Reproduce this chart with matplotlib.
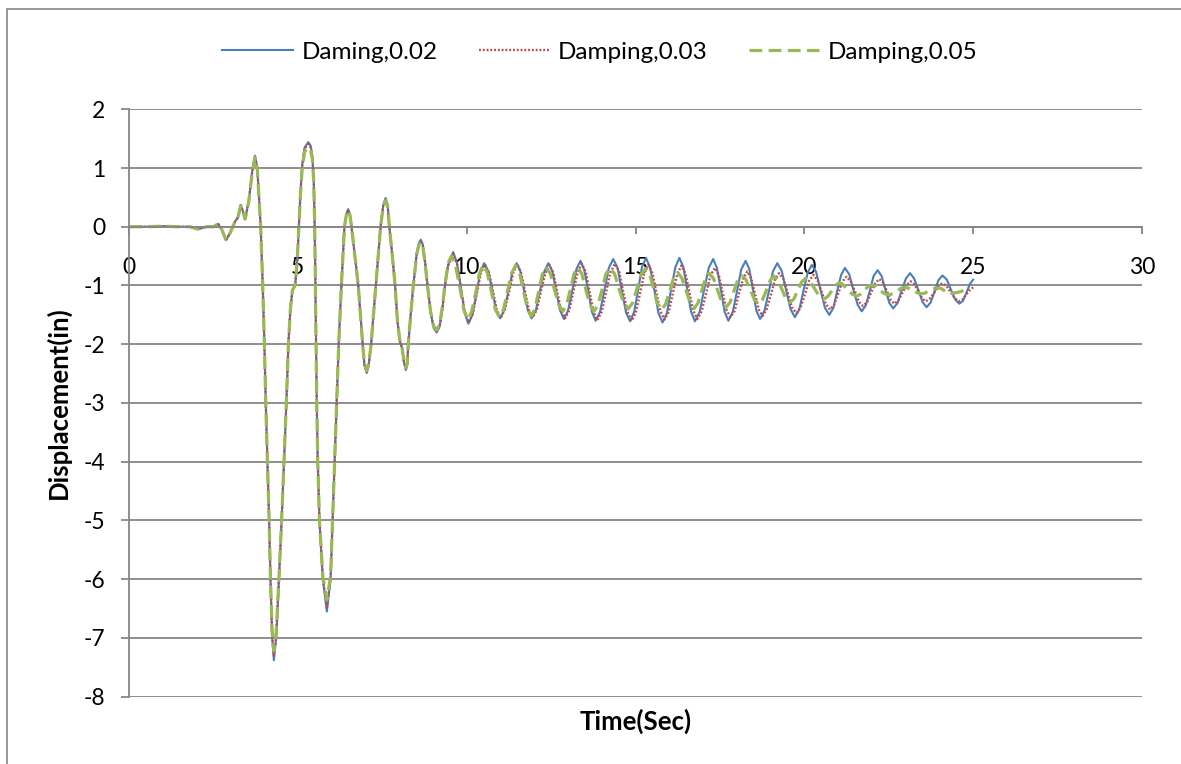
# -*- coding: utf-8 -*-
# Displacement time history for three damping ratios (Excel-style line chart)

import numpy as np
import matplotlib
matplotlib.use("Agg")
import matplotlib.pyplot as plt
from matplotlib.patches import Rectangle

plt.rcParams['font.family'] = ['Lato', 'DejaVu Sans']
plt.rcParams['axes.unicode_minus'] = False

GRAY = '#868686'

labels = ['Daming,0.02', 'Damping,0.03', 'Damping,0.05']
colors = ['#4A7EBB', '#BE4B48', '#98B954']

# ---- strong motion part, 0 - 9.45 s (same time samples for all three runs)
time_early = [
    0.0, 0.5, 1.0, 1.5, 1.8, 2.04, 2.3, 2.5,
    2.64, 2.75, 2.87, 3.0, 3.14, 3.22, 3.31, 3.38,
    3.44, 3.55, 3.65, 3.73, 3.80, 3.90, 3.96, 4.01,
    4.05, 4.10, 4.15, 4.19, 4.24, 4.29, 4.36, 4.44,
    4.52, 4.59, 4.66, 4.72, 4.78, 4.84, 4.92, 4.98,
    5.03, 5.08, 5.13, 5.20, 5.31, 5.38, 5.43, 5.47,
    5.50, 5.52, 5.54, 5.56, 5.59, 5.64, 5.74, 5.86,
    5.97, 6.03, 6.09, 6.15, 6.21, 6.29, 6.38, 6.44,
    6.49, 6.54, 6.59, 6.69, 6.79, 6.92, 6.97, 7.04,
    7.10, 7.17, 7.31, 7.45, 7.53, 7.60, 7.66, 7.71,
    7.80, 7.88, 7.95, 8.02, 8.08, 8.14, 8.20, 8.24,
    8.27, 8.35, 8.42, 8.52, 8.58, 8.64, 8.70, 8.77,
    8.84, 8.93, 9.02, 9.11, 9.20, 9.28, 9.36, 9.45,
]
disp_early_002 = [
    0.00, 0.00, 0.01, 0.00, 0.00, -0.04, 0.00, 0.00,
    0.05, -0.05, -0.23, -0.10, 0.09, 0.15, 0.37, 0.25,
    0.13, 0.45, 0.95, 1.21, 1.00, 0.00, -1.00, -2.00,
    -3.00, -4.00, -5.00, -6.00, -7.00, -7.38, -7.00, -6.00,
    -5.00, -4.00, -3.00, -2.00, -1.40, -1.08, -1.00, -0.60,
    0.00, 0.60, 1.05, 1.35, 1.44, 1.38, 1.20, 0.80,
    0.00, -1.00, -2.00, -3.00, -4.00, -5.00, -6.00, -6.55,
    -6.00, -5.00, -4.00, -3.00, -2.00, -1.00, 0.00, 0.22,
    0.30, 0.22, 0.00, -0.50, -1.00, -2.00, -2.35, -2.49,
    -2.35, -2.00, -1.00, 0.00, 0.37, 0.49, 0.37, 0.00,
    -0.50, -1.00, -1.60, -1.95, -2.05, -2.30, -2.44, -2.35,
    -2.00, -1.45, -1.00, -0.45, -0.28, -0.22, -0.30, -0.60,
    -1.00, -1.45, -1.72, -1.80, -1.70, -1.40, -1.00, -0.65,
]
disp_early_003 = [
    0.00, 0.00, 0.01, 0.00, 0.00, -0.04, 0.00, 0.00,
    0.05, -0.05, -0.23, -0.10, 0.09, 0.15, 0.37, 0.25,
    0.13, 0.45, 0.94, 1.20, 1.00, 0.00, -1.00, -2.00,
    -3.00, -4.00, -5.00, -6.00, -6.95, -7.30, -6.95, -6.00,
    -5.00, -4.00, -3.00, -2.00, -1.40, -1.08, -1.00, -0.60,
    0.00, 0.60, 1.04, 1.33, 1.41, 1.35, 1.18, 0.80,
    0.00, -1.00, -2.00, -3.00, -4.00, -5.00, -5.97, -6.48,
    -5.97, -5.00, -4.00, -3.00, -2.00, -1.00, 0.00, 0.21,
    0.29, 0.21, 0.00, -0.50, -1.00, -2.00, -2.34, -2.47,
    -2.34, -2.00, -1.00, 0.00, 0.36, 0.47, 0.36, 0.00,
    -0.50, -1.00, -1.60, -1.95, -2.05, -2.29, -2.43, -2.34,
    -2.00, -1.45, -1.00, -0.47, -0.31, -0.25, -0.32, -0.62,
    -1.00, -1.45, -1.71, -1.78, -1.69, -1.40, -1.00, -0.67,
]
disp_early_005 = [
    0.00, 0.00, 0.01, 0.00, 0.00, -0.04, 0.00, 0.00,
    0.05, -0.05, -0.22, -0.10, 0.09, 0.15, 0.36, 0.25,
    0.13, 0.44, 0.93, 1.18, 0.98, 0.00, -1.00, -2.00,
    -3.00, -4.00, -5.00, -6.00, -6.90, -7.22, -6.90, -6.00,
    -5.00, -4.00, -3.00, -2.00, -1.40, -1.08, -1.00, -0.60,
    0.00, 0.58, 1.00, 1.28, 1.35, 1.30, 1.15, 0.78,
    0.00, -1.00, -2.00, -3.00, -4.00, -5.00, -5.95, -6.35,
    -5.95, -5.00, -4.00, -3.00, -2.00, -1.00, 0.00, 0.21,
    0.28, 0.21, 0.00, -0.50, -1.00, -2.00, -2.33, -2.45,
    -2.33, -2.00, -1.00, 0.00, 0.35, 0.45, 0.35, 0.00,
    -0.50, -1.00, -1.60, -1.93, -2.03, -2.27, -2.40, -2.32,
    -2.00, -1.45, -1.00, -0.48, -0.32, -0.26, -0.33, -0.63,
    -1.00, -1.44, -1.69, -1.76, -1.66, -1.36, -0.97, -0.62,
]

# ---- free vibration part, each run has its own samples
time_late_002 = [
    9.60, 9.71, 9.83, 9.94, 10.05, 10.17, 10.29, 10.40,
    10.52, 10.64, 10.76, 10.87, 10.99, 11.11, 11.24, 11.36,
    11.48, 11.59, 11.70, 11.81, 11.92, 12.05, 12.17, 12.30,
    12.42, 12.54, 12.65, 12.77, 12.88, 13.00, 13.13, 13.25,
    13.37, 13.48, 13.60, 13.71, 13.82, 13.95, 14.08, 14.21,
    14.34, 14.47, 14.59, 14.72, 14.84, 14.96, 15.08, 15.19,
    15.31, 15.43, 15.56, 15.68, 15.80, 15.93, 16.05, 16.18,
    16.30, 16.42, 16.53, 16.65, 16.76, 16.90, 17.03, 17.17,
    17.30, 17.41, 17.53, 17.64, 17.75, 17.88, 18.01, 18.13,
    18.26, 18.37, 18.48, 18.58, 18.69, 18.82, 18.95, 19.07,
    19.20, 19.33, 19.46, 19.59, 19.72, 19.85, 19.97, 20.10,
    20.22, 20.35, 20.48, 20.61, 20.74, 20.86, 20.97, 21.09,
    21.20, 21.33, 21.45, 21.58, 21.70, 21.82, 21.94, 22.05,
    22.17, 22.29, 22.40, 22.52, 22.63, 22.76, 22.88, 23.01,
    23.13, 23.25, 23.38, 23.50, 23.62, 23.74, 23.86, 23.97,
    24.09, 24.22, 24.34, 24.47, 24.59, 24.70, 24.80, 24.90,
    25.00,
]
disp_late_002 = [
    -0.43, -0.61, -1.04, -1.47, -1.65, -1.50, -1.14, -0.77,
    -0.62, -0.76, -1.09, -1.42, -1.56, -1.42, -1.09, -0.76,
    -0.62, -0.76, -1.09, -1.42, -1.56, -1.42, -1.09, -0.76,
    -0.62, -0.76, -1.10, -1.43, -1.57, -1.43, -1.08, -0.72,
    -0.58, -0.73, -1.09, -1.45, -1.60, -1.45, -1.08, -0.70,
    -0.55, -0.70, -1.08, -1.46, -1.61, -1.45, -1.07, -0.69,
    -0.53, -0.69, -1.08, -1.47, -1.63, -1.47, -1.08, -0.69,
    -0.53, -0.69, -1.07, -1.45, -1.61, -1.45, -1.08, -0.70,
    -0.55, -0.70, -1.08, -1.45, -1.60, -1.45, -1.09, -0.73,
    -0.58, -0.72, -1.08, -1.43, -1.57, -1.43, -1.10, -0.76,
    -0.62, -0.75, -1.08, -1.40, -1.54, -1.41, -1.10, -0.78,
    -0.65, -0.77, -1.08, -1.38, -1.50, -1.38, -1.10, -0.82,
    -0.70, -0.81, -1.07, -1.33, -1.44, -1.34, -1.09, -0.84,
    -0.74, -0.84, -1.07, -1.30, -1.39, -1.30, -1.09, -0.88,
    -0.79, -0.88, -1.08, -1.28, -1.37, -1.29, -1.10, -0.91,
    -0.83, -0.90, -1.07, -1.24, -1.31, -1.26, -1.12, -0.98,
    -0.90,
]
time_late_003 = [
    9.60, 9.72, 9.83, 9.95, 10.06, 10.18, 10.30, 10.42,
    10.54, 10.66, 10.78, 10.89, 11.01, 11.13, 11.26, 11.38,
    11.50, 11.61, 11.73, 11.84, 11.95, 12.08, 12.20, 12.33,
    12.45, 12.57, 12.68, 12.80, 12.91, 13.04, 13.16, 13.29,
    13.41, 13.53, 13.64, 13.76, 13.87, 14.00, 14.13, 14.26,
    14.39, 14.52, 14.64, 14.77, 14.89, 15.01, 15.14, 15.26,
    15.38, 15.50, 15.62, 15.74, 15.86, 15.99, 16.11, 16.24,
    16.36, 16.48, 16.60, 16.71, 16.83, 16.96, 17.09, 17.22,
    17.35, 17.47, 17.58, 17.70, 17.81, 17.94, 18.06, 18.19,
    18.31, 18.42, 18.54, 18.65, 18.76, 18.88, 19.01, 19.13,
    19.25, 19.38, 19.51, 19.63, 19.76, 19.89, 20.02, 20.14,
    20.27, 20.39, 20.52, 20.64, 20.76, 20.88, 21.01, 21.13,
    21.25, 21.37, 21.50, 21.62, 21.74, 21.86, 21.98, 22.10,
    22.22, 22.33, 22.45, 22.56, 22.67, 22.79, 22.91, 23.03,
    23.15, 23.26, 23.38, 23.49, 23.60, 23.72, 23.85, 23.97,
    24.09, 24.21, 24.34, 24.46, 24.58, 24.70, 24.80, 24.90,
    25.00,
]
disp_late_003 = [
    -0.47, -0.64, -1.05, -1.46, -1.63, -1.48, -1.14, -0.79,
    -0.64, -0.78, -1.10, -1.41, -1.55, -1.41, -1.10, -0.78,
    -0.64, -0.78, -1.10, -1.41, -1.55, -1.41, -1.10, -0.79,
    -0.65, -0.79, -1.11, -1.42, -1.56, -1.42, -1.10, -0.77,
    -0.63, -0.77, -1.11, -1.45, -1.59, -1.45, -1.11, -0.77,
    -0.63, -0.77, -1.12, -1.46, -1.60, -1.46, -1.12, -0.79,
    -0.65, -0.79, -1.12, -1.44, -1.58, -1.44, -1.12, -0.80,
    -0.66, -0.80, -1.12, -1.43, -1.57, -1.44, -1.14, -0.83,
    -0.70, -0.83, -1.12, -1.42, -1.54, -1.43, -1.15, -0.88,
    -0.76, -0.87, -1.14, -1.41, -1.52, -1.41, -1.16, -0.90,
    -0.79, -0.89, -1.13, -1.37, -1.47, -1.37, -1.15, -0.92,
    -0.82, -0.91, -1.12, -1.32, -1.41, -1.33, -1.13, -0.93,
    -0.85, -0.93, -1.10, -1.28, -1.35, -1.28, -1.12, -0.96,
    -0.89, -0.95, -1.10, -1.25, -1.31, -1.25, -1.12, -0.99,
    -0.93, -0.98, -1.10, -1.22, -1.27, -1.22, -1.12, -1.01,
    -0.96, -1.01, -1.12, -1.22, -1.27, -1.23, -1.15, -1.08,
    -1.03,
]
time_late_005 = [
    9.55, 9.67, 9.80, 9.92, 10.04, 10.15, 10.27, 10.38,
    10.49, 10.61, 10.73, 10.85, 10.97, 11.09, 11.21, 11.33,
    11.45, 11.57, 11.68, 11.80, 11.91, 12.02, 12.13, 12.24,
    12.35, 12.48, 12.60, 12.73, 12.85, 12.96, 13.07, 13.18,
    13.29, 13.41, 13.53, 13.65, 13.77, 13.89, 14.01, 14.12,
    14.24, 14.38, 14.51, 14.65, 14.78, 14.91, 15.04, 15.17,
    15.30, 15.42, 15.54, 15.65, 15.77, 15.89, 16.01, 16.13,
    16.25, 16.37, 16.50, 16.62, 16.74, 16.85, 16.96, 17.07,
    17.18, 17.31, 17.43, 17.56, 17.68, 17.80, 17.91, 18.03,
    18.14, 18.27, 18.40, 18.52, 18.65, 18.76, 18.88, 18.99,
    19.10, 19.22, 19.34, 19.45, 19.57, 19.69, 19.80, 19.92,
    20.03, 20.17, 20.31, 20.44, 20.58, 20.69, 20.80, 20.91,
    21.02, 21.15, 21.29, 21.42, 21.55, 21.66, 21.77, 21.88,
    21.99, 22.12, 22.25, 22.37, 22.50, 22.62, 22.74, 22.86,
    22.98, 23.10, 23.22, 23.33, 23.45, 23.57, 23.69, 23.80,
    23.92, 24.04, 24.16, 24.28, 24.40, 24.52, 24.65, 24.77,
    24.90,
]
disp_late_005 = [
    -0.50, -0.66, -1.04, -1.42, -1.58, -1.44, -1.12, -0.79,
    -0.65, -0.78, -1.10, -1.41, -1.54, -1.41, -1.10, -0.79,
    -0.66, -0.79, -1.09, -1.39, -1.52, -1.40, -1.11, -0.81,
    -0.69, -0.80, -1.07, -1.33, -1.44, -1.33, -1.07, -0.80,
    -0.69, -0.80, -1.07, -1.33, -1.44, -1.33, -1.07, -0.81,
    -0.70, -0.80, -1.05, -1.30, -1.40, -1.30, -1.06, -0.81,
    -0.71, -0.81, -1.06, -1.31, -1.41, -1.32, -1.10, -0.87,
    -0.78, -0.87, -1.09, -1.30, -1.39, -1.30, -1.09, -0.88,
    -0.79, -0.88, -1.08, -1.29, -1.37, -1.29, -1.10, -0.91,
    -0.83, -0.90, -1.07, -1.24, -1.31, -1.24, -1.08, -0.91,
    -0.84, -0.91, -1.07, -1.22, -1.29, -1.23, -1.09, -0.94,
    -0.88, -0.93, -1.06, -1.18, -1.23, -1.19, -1.10, -1.00,
    -0.96, -0.99, -1.07, -1.15, -1.18, -1.15, -1.09, -1.02,
    -0.99, -1.01, -1.08, -1.14, -1.16, -1.14, -1.10, -1.05,
    -1.03, -1.05, -1.09, -1.12, -1.14, -1.13, -1.09, -1.06,
    -1.04, -1.05, -1.09, -1.12, -1.13, -1.12, -1.10, -1.07,
    -1.06,
]

series = [
    (time_late_002, disp_early_002, disp_late_002),
    (time_late_003, disp_early_003, disp_late_003),
    (time_late_005, disp_early_005, disp_late_005),
]

fig = plt.figure(figsize=(11.81, 7.64), dpi=100)
W, H = 1181.0, 764.0
# plot area in pixels: x 129..1142, y 109..697
ax = fig.add_axes([129 / W, 1 - 696.6 / H, (1142 - 129) / W, (696.6 - 109.3) / H])

styles = [
    dict(lw=1.5, linestyle='-'),
    dict(lw=1.7, linestyle=(0, (0.8, 0.8))),
    dict(lw=2.3, linestyle=(0, (4, 2))),
]
for (t_late, d_early, d_late), lab, col, st in zip(series, labels, colors, styles):
    assert len(time_early) == len(d_early) and len(t_late) == len(d_late)
    t = np.concatenate([time_early, t_late])
    d = np.concatenate([d_early, d_late])
    ax.plot(t, d, color=col, label=lab, **st)

ax.set_xlim(0, 30)
ax.set_ylim(-8, 2)
ax.set_xticks(range(0, 31, 5))
ax.set_yticks(range(-8, 3))

ax.yaxis.grid(True, color=GRAY, lw=1.3)
ax.set_axisbelow(True)
for s in ['top', 'right']:
    ax.spines[s].set_visible(False)
ax.spines['left'].set_color(GRAY)
ax.spines['left'].set_linewidth(1.3)
ax.spines['bottom'].set_position(('data', 0))
ax.spines['bottom'].set_color(GRAY)
ax.spines['bottom'].set_linewidth(1.3)

ax.tick_params(axis='y', direction='out', length=6, width=1.3, color=GRAY,
               pad=11, labelsize=16.5)
ax.tick_params(axis='x', direction='out', length=5, width=1.3, color=GRAY,
               pad=17, labelsize=16.5)

ax.set_xlabel('Time(Sec)', fontsize=18.5, fontweight='bold', va='center')
ax.xaxis.set_label_coords(0.5, (696.6 - 721) / 587.3)
ax.set_ylabel('Displacement(in)', fontsize=18.5, fontweight='bold', va='center')
ax.yaxis.set_label_coords((58 - 129) / 1013.0, 0.5)

ax.legend(loc='center', bbox_to_anchor=(600 / W, 1 - 52 / H),
          bbox_transform=fig.transFigure, ncol=3, frameon=False,
          fontsize=17.5, handlelength=2.9, handletextpad=0.35, columnspacing=1.7)

# outer chart frame (cut off on the right and at the bottom)
fig.add_artist(Rectangle((7 / W, -0.1), 1.2, 1.1 - 9 / H, transform=fig.transFigure,
                         fill=False, edgecolor=GRAY, lw=1.2))

fig.savefig('out.png', dpi=100)
